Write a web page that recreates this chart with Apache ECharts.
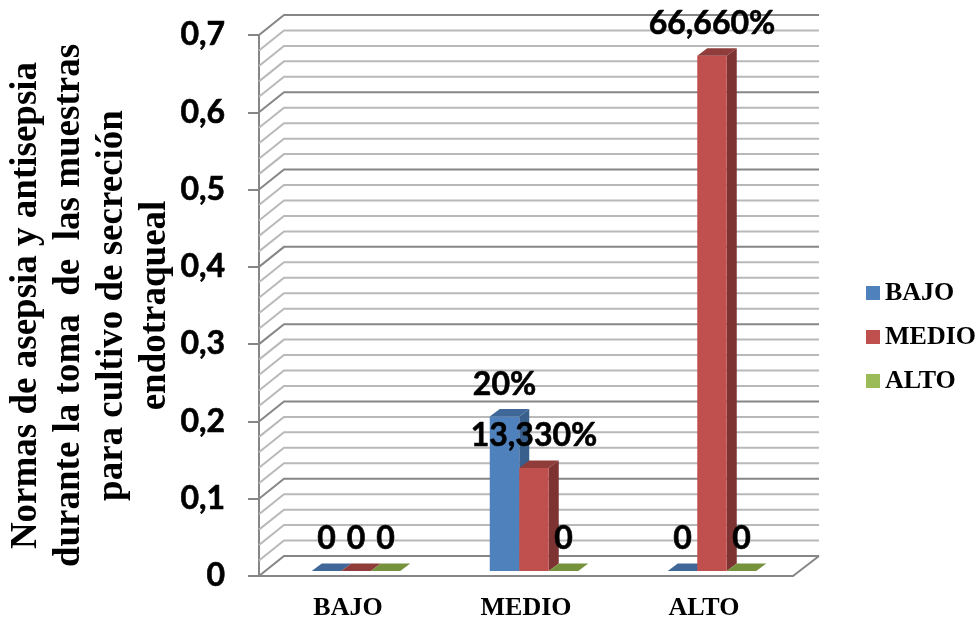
<!DOCTYPE html>
<html>
<head>
<meta charset="utf-8">
<style>html,body{margin:0;padding:0;background:#fff}#chart{width:979px;height:620px}</style>
<script src="https://cdn.jsdelivr.net/npm/echarts@6/dist/echarts.min.js"></script>
</head>
<body>
<div id="chart"></div>
<script>
// Niveles evaluados y valores por serie
const categories = ['BAJO', 'MEDIO', 'ALTO'];
const seriesNames = ['BAJO', 'MEDIO', 'ALTO'];
const bajoValues = [0, 0.2, 0];
const medioValues = [0, 0.1333, 0.6666];
const altoValues = [0, 0, 0];
const bajoLabels = ['0', '20%', '0'];
const medioLabels = ['0', '13,330%', '66,660%'];
const altoLabels = ['0', '0', '0'];
const gridValues = [0, 0.02, 0.04, 0.06, 0.08, 0.1, 0.12, 0.14, 0.16, 0.18, 0.2, 0.22, 0.24, 0.26, 0.28, 0.3,
  0.32, 0.34, 0.36, 0.38, 0.4, 0.42, 0.44, 0.46, 0.48, 0.5, 0.52, 0.54, 0.56, 0.58, 0.6, 0.62, 0.64, 0.66, 0.68, 0.7];
const yAxisTitle = 'Normas de asepsia y antisepsia\ndurante la toma  de  las muestras\npara cultivo de secreción\nendotraqueal';

const palette = [
  { front: '#4f81bd', top: '#3f6797', side: '#395f8c' },
  { front: '#c0504d', top: '#8f3c3a', side: '#7d3331' },
  { front: '#9bbb59', top: '#76923c', side: '#6d8836' }
];
const allValues = [bajoValues, medioValues, altoValues];
const allLabels = [bajoLabels, medioLabels, altoLabels];

// Proyección oblicua de la caja 3D
const wallDx = 25, wallDy = -20;
const barDx = 10, barDy = -7.5;
const barInsetX = 8, barInsetY = -5;
const barWidthRatio = 29.5 / 178;
const axisGray = '#868686', minorGray = '#b9b9b9';
const numberFont = 'Lato, "Noto Sans", sans-serif';
const serifFont = '"Liberation Serif", serif';

function renderWall(params, api) {
  const v = api.value(0);
  const y = api.coord([0, v])[1];
  const cs = params.coordSys;
  const major = params.dataIndex % 5 === 0;
  return {
    type: 'polyline',
    silent: true,
    shape: { points: [[cs.x, y], [cs.x + wallDx, y + wallDy], [cs.x + cs.width + wallDx + 1, y + wallDy]] },
    style: { fill: 'none', stroke: major ? axisGray : minorGray, lineWidth: 2 }
  };
}

function renderFloorEdge(params, api) {
  const cs = params.coordSys;
  const y = api.coord([0, 0])[1];
  const x = cs.x + cs.width;
  return {
    type: 'line',
    silent: true,
    shape: { x1: x, y1: y, x2: x + wallDx + 1, y2: y + wallDy },
    style: { stroke: axisGray, lineWidth: 2 }
  };
}

function barFrame(s, api) {
  const base = api.coord([api.value(0), 0]);
  const top = api.coord([api.value(0), api.value(1)]);
  const w = api.size([1, 0])[0] * barWidthRatio;
  const x0 = base[0] + barInsetX + (s - 1.5) * w;
  return { x0, x1: x0 + w, y0: base[1] + barInsetY, y1: top[1] + barInsetY, w };
}

function renderBar(s) {
  return function (params, api) {
    const f = barFrame(s, api);
    const c = palette[s];
    const children = [];
    if (f.y0 - f.y1 > 0.5) {
      children.push({
        type: 'polygon',
        shape: { points: [[f.x1, f.y1], [f.x1 + barDx, f.y1 + barDy], [f.x1 + barDx, f.y0 + barDy], [f.x1, f.y0]] },
        style: { fill: c.side }
      });
      children.push({
        type: 'rect',
        shape: { x: f.x0, y: f.y1, width: f.w, height: f.y0 - f.y1 },
        style: { fill: c.front }
      });
    }
    children.push({
      type: 'polygon',
      shape: { points: [[f.x0, f.y1], [f.x1, f.y1], [f.x1 + barDx, f.y1 + barDy], [f.x0 + barDx, f.y1 + barDy]] },
      style: { fill: c.top }
    });
    return { type: 'group', children };
  };
}

function renderValueLabel(s) {
  return function (params, api) {
    const f = barFrame(s, api);
    return {
      type: 'text',
      silent: true,
      style: {
        x: (f.x0 + f.x1) / 2,
        y: f.y1 - 32,
        text: allLabels[s][params.dataIndex],
        fill: '#000',
        stroke: '#000',
        lineWidth: 0.6,
        font: 'bold 32px ' + numberFont,
        align: 'center',
        verticalAlign: 'middle'
      }
    };
  };
}

const series = [
  {
    name: 'pared',
    type: 'custom',
    z: 1,
    clip: false,
    silent: true,
    renderItem: renderWall,
    encode: { y: 0 },
    data: gridValues.map(v => [v])
  },
  {
    name: 'piso',
    type: 'custom',
    z: 1,
    clip: false,
    silent: true,
    renderItem: renderFloorEdge,
    data: [[0]]
  }
];

seriesNames.forEach((name, s) => {
  series.push({
    name,
    type: 'custom',
    z: 3,
    clip: false,
    itemStyle: { color: palette[s].front },
    renderItem: renderBar(s),
    encode: { x: 0, y: 1 },
    data: allValues[s].map((v, i) => [i, v])
  });
});
seriesNames.forEach((name, s) => {
  series.push({
    name: name + ' valor',
    type: 'custom',
    z: 5,
    clip: false,
    silent: true,
    renderItem: renderValueLabel(s),
    encode: { x: 0, y: 1 },
    data: allValues[s].map((v, i) => [i, v])
  });
});

const chart = echarts.init(document.getElementById('chart'), null, { renderer: 'canvas' });
chart.setOption({
  animation: false,
  backgroundColor: '#ffffff',
  grid: { left: 259, right: 186, top: 35, bottom: 44, containLabel: false, outerBoundsMode: 'none' },
  legend: {
    data: seriesNames,
    orient: 'vertical',
    left: 861,
    top: 275,
    itemWidth: 14,
    itemHeight: 14,
    itemGap: 18,
    icon: 'rect',
    selectedMode: false,
    textStyle: { fontFamily: serifFont, fontWeight: 'bold', fontSize: 26, color: '#000', padding: [0, 0, 0, 0] }
  },
  xAxis: {
    type: 'category',
    data: categories,
    axisTick: { show: false },
    axisLine: { lineStyle: { color: axisGray, width: 2 } },
    axisLabel: { fontFamily: serifFont, fontWeight: 'bold', fontSize: 26, color: '#000', margin: 19 }
  },
  yAxis: {
    type: 'value',
    min: 0,
    max: 0.7,
    interval: 0.1,
    name: yAxisTitle,
    nameLocation: 'middle',
    nameGap: 82,
    nameMoveOverlap: false,
    nameTextStyle: { fontFamily: serifFont, fontWeight: 'bold', fontSize: 37, lineHeight: 43, color: '#000' },
    splitLine: { show: false },
    axisLine: { show: true, lineStyle: { color: axisGray, width: 2 } },
    axisTick: { show: true, length: 11, lineStyle: { color: axisGray, width: 2 } },
    axisLabel: {
      fontFamily: numberFont,
      fontWeight: 'bold',
      fontSize: 32,
      color: '#000',
      margin: 34,
      padding: [5, 0, 0, 0],
      textBorderColor: '#000',
      textBorderWidth: 0.6,
      formatter: v => (v === 0 ? '0' : v.toFixed(1).replace('.', ','))
    }
  },
  series
});
</script>
</body>
</html>
